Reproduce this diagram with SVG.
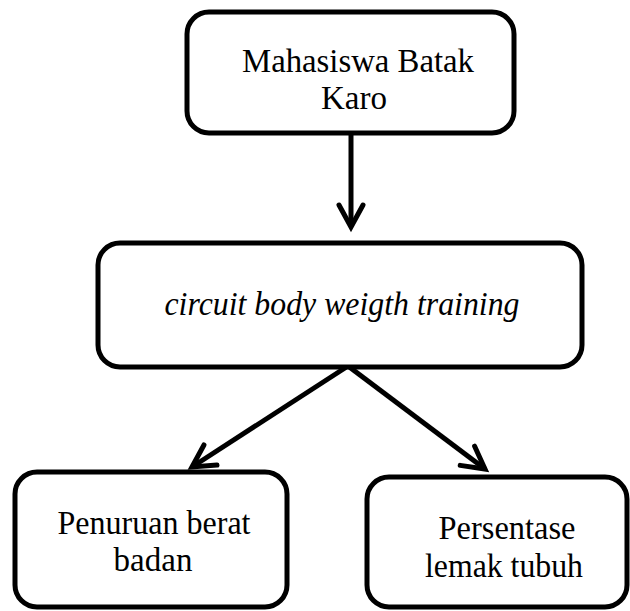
<svg xmlns="http://www.w3.org/2000/svg" width="630" height="611" viewBox="0 0 630 611">
  <style>
    .box { fill: #ffffff; stroke: #000000; stroke-width: 5; }
    .lbl { font-family: "Liberation Serif", "Times New Roman", serif; font-size: 33px; fill: #000000; text-anchor: middle; }
    .it { font-style: italic; }
    .conn { fill: none; stroke: #000000; stroke-width: 5; marker-end: url(#chev); }
  </style>
  <defs>
    <marker id="chev" markerUnits="userSpaceOnUse" markerWidth="40" markerHeight="40" refX="0" refY="0" viewBox="-30 -20 40 40" orient="auto" overflow="visible">
      <path d="M -22 -12 L 0 0 L -22 12" fill="none" stroke="#000000" stroke-width="5" stroke-linejoin="miter" stroke-linecap="round"/>
    </marker>
  </defs>
  <rect width="630" height="611" fill="#ffffff"/>
  <g id="connectors">
    <path class="conn" d="M 351 134 L 351 227"/>
    <path class="conn" d="M 348 366 L 192 467"/>
    <path class="conn" d="M 348 366 L 485 469"/>
  </g>
  <g id="node-mahasiswa">
    <rect class="box" x="187" y="12" width="327" height="121" rx="22" ry="22"/>
    <text class="lbl" x="358" y="72" textLength="232" lengthAdjust="spacingAndGlyphs">Mahasiswa Batak</text>
    <text class="lbl" x="354" y="109">Karo</text>
  </g>
  <g id="node-circuit">
    <rect class="box" x="98" y="243" width="484" height="124" rx="22" ry="22"/>
    <text class="lbl it" x="342" y="315" textLength="355" lengthAdjust="spacingAndGlyphs">circuit body weigth training</text>
  </g>
  <g id="node-penuruan">
    <rect class="box" x="15" y="472" width="272" height="135" rx="22" ry="22"/>
    <text class="lbl" x="154" y="534" textLength="193" lengthAdjust="spacingAndGlyphs">Penuruan berat</text>
    <text class="lbl" x="153" y="571">badan</text>
  </g>
  <g id="node-persentase">
    <rect class="box" x="367" y="477" width="260" height="130" rx="22" ry="22"/>
    <text class="lbl" x="507" y="539" textLength="137" lengthAdjust="spacingAndGlyphs">Persentase</text>
    <text class="lbl" x="504" y="577" textLength="158" lengthAdjust="spacingAndGlyphs">lemak tubuh</text>
  </g>
</svg>
